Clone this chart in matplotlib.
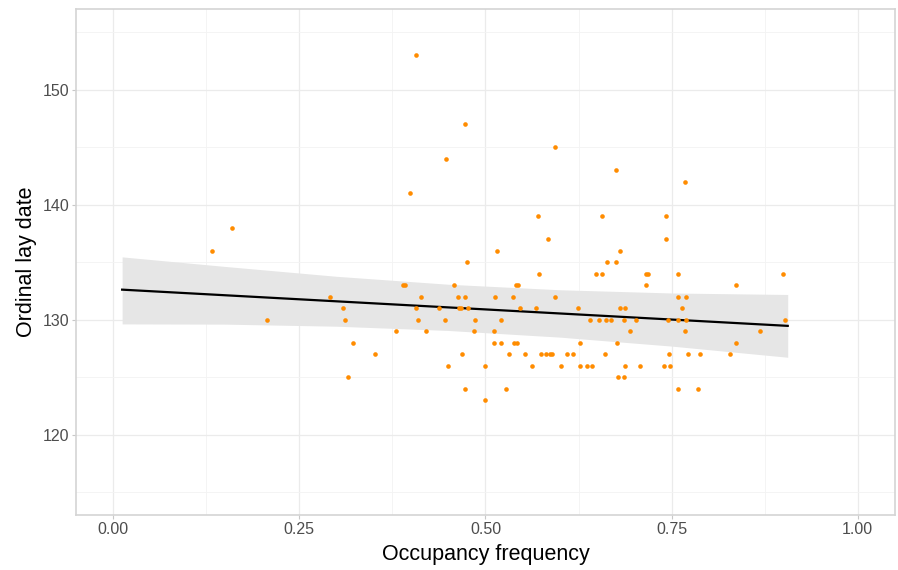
import numpy as np
import matplotlib.pyplot as plt

# datos: fecha de puesta (entera) y frecuencia de ocupacion
fechas = {
    123: [0.500],
    124: [0.473, 0.527, 0.759, 0.786],
    125: [0.315, 0.678, 0.686],
    126: [0.450, 0.500, 0.562, 0.602, 0.627, 0.637, 0.643, 0.687, 0.708, 0.740, 0.748],
    127: [0.352, 0.468, 0.532, 0.553, 0.574, 0.581, 0.587, 0.590, 0.609, 0.617,
          0.660, 0.747, 0.772, 0.788, 0.829],
    128: [0.322, 0.511, 0.521, 0.539, 0.542, 0.627, 0.677, 0.836],
    129: [0.380, 0.420, 0.484, 0.511, 0.694, 0.768, 0.869],
    130: [0.206, 0.312, 0.410, 0.445, 0.486, 0.521, 0.641, 0.652, 0.662, 0.669,
          0.686, 0.702, 0.745, 0.759, 0.770, 0.902],
    131: [0.308, 0.407, 0.438, 0.464, 0.467, 0.476, 0.546, 0.568, 0.624, 0.681,
          0.688, 0.764],
    132: [0.291, 0.413, 0.463, 0.473, 0.513, 0.537, 0.593, 0.758, 0.769],
    133: [0.389, 0.392, 0.458, 0.541, 0.544, 0.716, 0.837],
    134: [0.572, 0.648, 0.656, 0.716, 0.718, 0.759, 0.899],
    135: [0.475, 0.663, 0.675],
    136: [0.133, 0.516, 0.681],
    137: [0.584, 0.742],
    138: [0.160],
    139: [0.571, 0.657, 0.742],
    141: [0.398],
    142: [0.768],
    143: [0.676],
    144: [0.447],
    145: [0.593],
    147: [0.473],
    153: [0.407],
}

# recta ajustada y banda de confianza
recta_x = [0.012, 0.906]
recta_y = [132.6, 129.45]
banda_x = [0.012, 0.15, 0.30, 0.45, 0.60, 0.75, 0.906]
banda_sup = [135.45, 134.62, 133.76, 133.07, 132.59, 132.31, 132.18]
banda_inf = [129.62, 129.60, 129.42, 129.05, 128.47, 127.69, 126.72]

x_ticks = [0.0, 0.25, 0.5, 0.75, 1.0]
x_labels = ["0.00", "0.25", "0.50", "0.75", "1.00"]
y_ticks = [120, 130, 140, 150]

x = []
y = []
for f, ocup in fechas.items():
    for o in ocup:
        x.append(o)
        y.append(f)

plt.rcParams['font.family'] = ['Liberation Sans', 'DejaVu Sans']

fig = plt.figure(figsize=(8.98, 5.70), dpi=100)
ax = fig.add_axes([0.0846, 0.0965, 0.912, 0.8875])

ax.fill_between(banda_x, banda_inf, banda_sup, color="#e6e6e6", lw=0, zorder=2)
ax.plot(recta_x, recta_y, color="black", lw=1.6, zorder=3)
ax.scatter(x, y, s=11, color="#ff8c00", lw=0, zorder=4)

ax.set_xlim(-0.05, 1.05)
ax.set_ylim(113, 157)
ax.set_xticks(x_ticks)
ax.set_xticklabels(x_labels)
ax.set_yticks(y_ticks)
ax.set_xticks([0.125, 0.375, 0.625, 0.875], minor=True)
ax.set_yticks([115, 125, 135, 145, 155], minor=True)
ax.grid(which="major", color="#ebebeb", lw=0.9, zorder=0)
ax.grid(which="minor", color="#f3f3f3", lw=0.6, zorder=0)
ax.set_axisbelow(True)
for sp in ax.spines.values():
    sp.set_color("#d4d4d4")
    sp.set_linewidth(1.2)
ax.tick_params(which="major", length=3, color="#c8c8c8", labelsize=11.5,
               labelcolor="#4d4d4d", pad=2)
ax.tick_params(which="minor", length=0)

ax.set_xlabel("Occupancy frequency", fontsize=15.5, labelpad=5)
ax.set_ylabel("Ordinal lay date", fontsize=15.5, labelpad=4)

plt.savefig("out.png", dpi=100)
